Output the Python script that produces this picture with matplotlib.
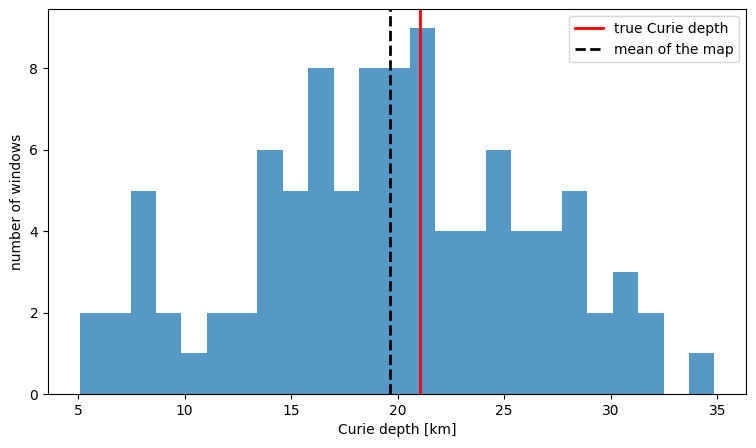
import numpy as np
import matplotlib
matplotlib.use("Agg")
import matplotlib.pyplot as plt

# histogram of Curie depth estimates (counts)
depth_min = 5.08
depth_max = 34.87
n_bins = 25
counts = [2, 2, 5, 2, 1, 2, 2, 6, 5, 8, 5, 8, 8, 9, 4, 4, 6, 4, 4, 5, 2, 3, 2, 0, 1]
true_depth = 21.03
map_mean = 19.62

edges = np.linspace(depth_min, depth_max, n_bins + 1)
centers = 0.5 * (edges[:-1] + edges[1:])

fig, ax = plt.subplots(figsize=(7.56, 4.48), dpi=100)
ax.hist(centers, bins=edges, weights=counts, alpha=0.75)
ax.axvline(true_depth, color='red', lw=2, label='true Curie depth')
ax.axvline(map_mean, color='black', ls='--', lw=2, label='mean of the map')
ax.set_xlabel('Curie depth [km]')
ax.set_ylabel('number of windows')
ax.legend(loc='upper right')

plt.subplots_adjust(left=0.0635, right=0.987, top=0.979, bottom=0.1205)
fig.savefig('out.png', dpi=100)
